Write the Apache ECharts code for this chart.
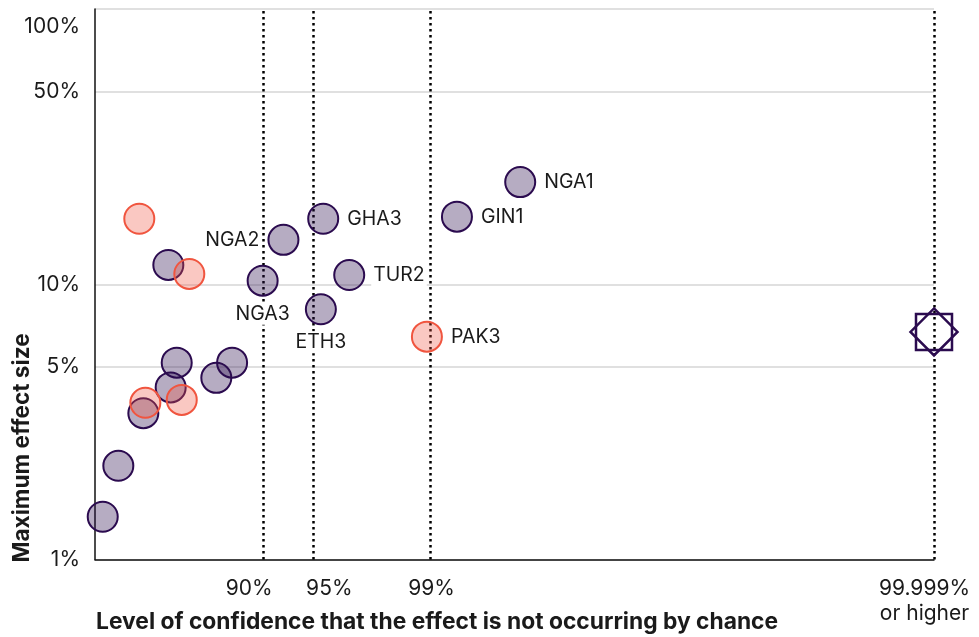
<!DOCTYPE html>
<html><head><meta charset="utf-8">
<script src="https://cdn.jsdelivr.net/npm/echarts@6/dist/echarts.min.js"></script>
<style>html,body{margin:0;padding:0;background:#fff}#c{width:979px;height:637px}</style>
</head><body><div id="c"></div>
<script>
// x values are -log10(p), where confidence = 1 - p ; y values are maximum effect size in %
const purpleNames = ['', '', '', '', '', '', '', '', 'NGA3', 'NGA2', 'GHA3', 'ETH3', 'TUR2', 'GIN1', 'NGA1'];
const purpleX = [0.046, 0.139, 0.288, 0.451, 0.487, 0.723, 0.817, 0.437, 0.999, 1.123, 1.36, 1.346, 1.515, 2.157, 2.534];
const purpleY = [1.43, 2.19, 3.40, 4.22, 5.19, 4.57, 5.19, 11.75, 10.3, 14.5, 17.3, 8.11, 10.8, 17.6, 23.5];
const salmonNames = ['', '', '', '', 'PAK3'];
const salmonX = [0.264, 0.562, 0.300, 0.517, 1.978];
const salmonY = [17.3, 10.9, 3.71, 3.80, 6.45];
const pooledX = [5];
const pooledY = [6.71];
const xTickValues = [1, 1.301, 2, 5];
const xTickLabels = ['90%', '95%', '99%', '99.999%\nor higher'];
const yTickValues = [1, 5, 10, 50, 100];
const yTickLabels = ['1%', '5%', '10%', '50%', '100%'];

const FONT = 'Inter';
const TXT = '#1a1a1a';
const PURPLE = '#2b0b4f';
const SALMON = '#f0553f';
const labelPlace = { NGA1: 'right', GIN1: 'right', GHA3: 'right', TUR2: 'right', PAK3: 'right', NGA2: 'left', NGA3: 'bottom', ETH3: 'bottom' };
// horizontal nudges (px) of the x tick labels relative to their tick
const xLabelNudge = [-13.7, 16, 1, -9.5];

function nearestLabel(v, vals, labels) {
  let best = 0, bd = Infinity;
  vals.forEach((t, i) => { const d = Math.abs(Math.log(t) - Math.log(v)); if (d < bd) { bd = d; best = i; } });
  return labels[best];
}
function pts(xs, ys, names) {
  return xs.map((x, i) => {
    const n = names ? names[i] : '';
    const d = { value: [x, ys[i]], name: n };
    if (n) d.label = { show: true, position: labelPlace[n] || 'right' };
    return d;
  });
}
const labelStyle = {
  show: false, formatter: p => p.name, fontFamily: FONT, fontSize: 19.5, color: TXT,
  backgroundColor: '#fff', padding: [1, 2], distance: 6
};
const titleGraphics = [
  { id: 'ytitle', type: 'text', x: 22, y: 448, rotation: Math.PI / 2, z: 10,
    style: { text: 'Maximum effect size', fontFamily: FONT, fontSize: 22.6, fontWeight: 'bold', fill: TXT, align: 'center', verticalAlign: 'middle' } },
  { id: 'xtitle', type: 'text', x: 96, y: 622, z: 10,
    style: { text: 'Level of confidence that the effect is not occurring by chance', fontFamily: FONT, fontSize: 22.8, fontWeight: 'bold', fill: TXT, align: 'left', verticalAlign: 'middle' } }
];

const chart = echarts.init(document.getElementById('c'), null, { renderer: 'canvas' });
chart.setOption({
  animation: false,
  grid: { left: 95, right: 45, top: 9, bottom: 77.5, containLabel: false, outerBoundsMode: 'none' },
  xAxis: {
    type: 'value', min: 0, max: 5,
    axisLine: { show: true, lineStyle: { color: '#111', width: 1.5 } },
    axisTick: { show: false },
    splitLine: { show: false },
    axisLabel: { show: false }
  },
  yAxis: {
    type: 'log', logBase: 10, min: 1, max: 100,
    axisLine: { show: true, lineStyle: { color: '#111', width: 1.5 } },
    axisTick: { show: false, customValues: yTickValues },
    splitLine: { show: true, lineStyle: { color: '#d6d6d6', width: 1.5 } },
    axisLabel: {
      customValues: yTickValues,
      hideOverlap: false,
      showMinLabel: true,
      showMaxLabel: true,
      formatter: v => { const s = nearestLabel(v, yTickValues, yTickLabels); return s === '100%' ? '{top|' + s + '}' : s; },
      rich: { top: { fontFamily: FONT, fontSize: 21, color: TXT, padding: [36, 0, 0, 0] } },
      fontFamily: FONT, fontSize: 21, color: TXT, margin: 15
    }
  },
  graphic: titleGraphics,
  series: [
    {
      type: 'scatter', data: [], z: 1, silent: true,
      markLine: {
        z: 1, silent: true, symbol: 'none', animation: false,
        label: { show: false },
        lineStyle: { type: [2.5, 3.5], color: '#000', width: 2.5 },
        data: xTickValues.map(v => ({ xAxis: v }))
      }
    },
    {
      type: 'scatter', z: 3, clip: false, symbol: 'circle', symbolSize: 30,
      itemStyle: { color: 'rgba(46,16,80,0.35)', borderColor: PURPLE, borderWidth: 2, opacity: 1 },
      label: labelStyle,
      data: pts(purpleX, purpleY, purpleNames)
    },
    {
      type: 'scatter', z: 4, clip: false, symbol: 'circle', symbolSize: 30,
      itemStyle: { color: 'rgba(240,85,65,0.32)', borderColor: SALMON, borderWidth: 2, opacity: 1 },
      label: labelStyle,
      data: pts(salmonX, salmonY, salmonNames)
    },
    {
      type: 'scatter', z: 5, clip: false, symbol: 'rect', symbolSize: 36,
      itemStyle: { color: 'rgba(0,0,0,0)', borderColor: PURPLE, borderWidth: 2.5, opacity: 1 },
      data: pts(pooledX, pooledY)
    },
    {
      type: 'scatter', z: 5, clip: false, symbol: 'diamond', symbolSize: 47,
      itemStyle: { color: 'rgba(0,0,0,0)', borderColor: PURPLE, borderWidth: 2.5, opacity: 1 },
      data: pts(pooledX, pooledY)
    }
  ]
});

// x tick labels placed through the x axis scale
const axisY = chart.convertToPixel({ yAxisIndex: 0 }, 1);
const tickGraphics = xTickValues.map((v, i) => ({
  id: 'xtick' + i, type: 'text', z: 10,
  x: chart.convertToPixel({ xAxisIndex: 0 }, v) + xLabelNudge[i],
  y: axisY + 17,
  style: { text: xTickLabels[i], fontFamily: FONT, fontSize: 21, lineHeight: 25, fill: TXT, align: 'center', verticalAlign: 'top' }
}));
chart.setOption({ graphic: titleGraphics.concat(tickGraphics) });
</script></body></html>
